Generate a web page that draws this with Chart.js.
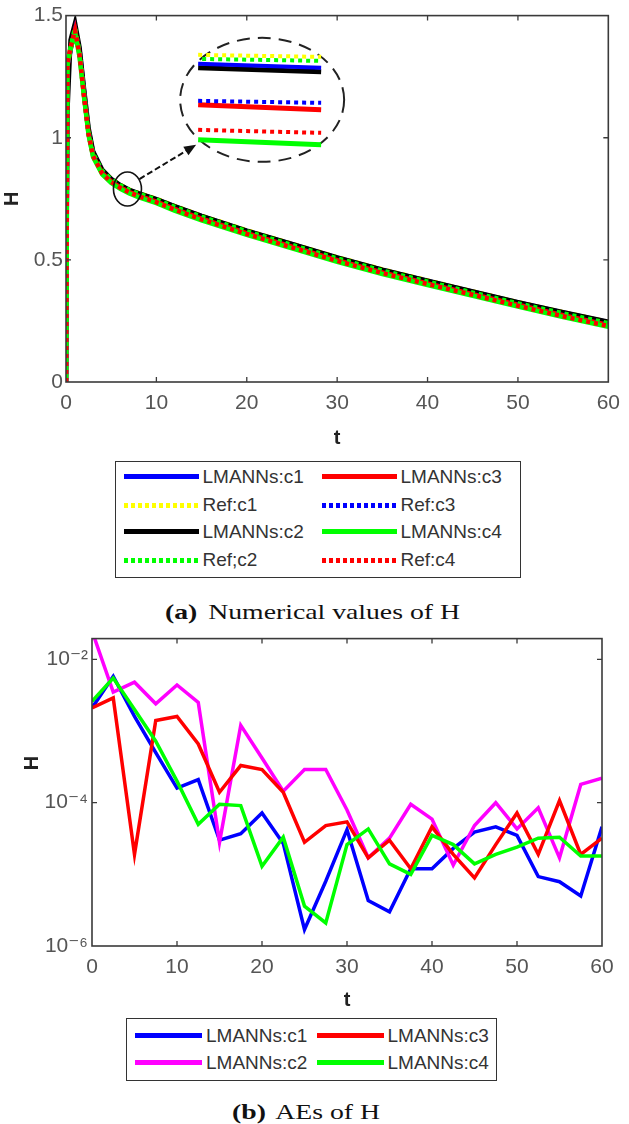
<!DOCTYPE html>
<html><head><meta charset="utf-8">
<script src="https://cdn.jsdelivr.net/npm/chart.js@4.4.1/dist/chart.umd.min.js"></script>
<style>
html,body{margin:0;padding:0;background:#fff;}
body{width:629px;height:1124px;position:relative;overflow:hidden;font-family:'Liberation Sans',Arial,sans-serif;}
.wrap{position:absolute;left:0;width:629px;}
.legend{position:absolute;border:1.5px solid #333;box-sizing:border-box;background:#fff;}
.item{position:absolute;height:24px;display:flex;align-items:center;}
.sample{height:5px;}
.lbl{font-size:19px;color:#333;margin-left:4px;white-space:nowrap;}
.caption{position:absolute;font-family:'Liberation Serif','Times New Roman',serif;font-size:21px;line-height:24px;color:#111;white-space:nowrap;transform:scaleX(1.32);transform-origin:left center;}
.caption b{margin-right:3px;}
</style></head><body>
<div class="wrap" style="top:0;height:452px"><canvas id="ca"></canvas></div>
<div class="legend" id="la" style="left:115px;top:461px;width:406px;height:117px"></div>
<div class="caption" style="left:165px;top:600px"><b>(a)</b> Numerical values of H</div>
<div class="wrap" style="top:622px;height:392px"><canvas id="cb"></canvas></div>
<div class="legend" id="lb" style="left:126px;top:1018px;width:371px;height:63px"></div>
<div class="caption" style="left:232px;top:1100px"><b>(b)</b> AEs of H</div>
<script>
// ---------- data: chart (a) numerical values of H ----------
const tA = [0,0.15,0.5,1,1.5,2,2.5,3,4,5,6,7,8,10,12,15,20,25,30,35,40,45,50,55,60];
const hLmannsC1 = [0,1.28,1.36,1.45,1.36,1.19,1.03,0.94,0.865,0.83,0.805,0.786,0.772,0.748,0.719,0.679,0.619,0.564,0.509,0.459,0.414,0.370,0.326,0.285,0.245];
const hRefC1    = [0,1.29,1.37,1.44,1.35,1.18,1.03,0.94,0.866,0.832,0.807,0.788,0.774,0.750,0.721,0.681,0.621,0.566,0.511,0.461,0.416,0.371,0.327,0.286,0.246];
const hLmannsC2 = [0,1.10,1.40,1.47,1.37,1.20,1.04,0.945,0.87,0.832,0.806,0.787,0.773,0.749,0.720,0.680,0.620,0.565,0.510,0.460,0.415,0.371,0.327,0.286,0.247];
const hRefC2    = [0,1.30,1.37,1.45,1.35,1.18,1.025,0.935,0.864,0.83,0.805,0.786,0.771,0.747,0.717,0.677,0.617,0.561,0.506,0.456,0.411,0.366,0.322,0.281,0.241];
const hLmannsC3 = [0,1.29,1.36,1.44,1.34,1.17,1.015,0.925,0.856,0.821,0.797,0.778,0.763,0.738,0.709,0.669,0.609,0.554,0.499,0.449,0.404,0.360,0.316,0.274,0.234];
const hRefC3    = [0,1.29,1.36,1.44,1.345,1.175,1.02,0.93,0.858,0.823,0.799,0.780,0.765,0.740,0.711,0.671,0.611,0.556,0.501,0.451,0.406,0.362,0.318,0.276,0.236];
const hLmannsC4 = [0,1.30,1.36,1.43,1.33,1.165,1.01,0.92,0.85,0.815,0.791,0.772,0.757,0.732,0.702,0.662,0.602,0.547,0.492,0.442,0.397,0.353,0.309,0.266,0.226];
const hRefC4    = [0,1.30,1.37,1.44,1.34,1.17,1.015,0.925,0.854,0.819,0.795,0.776,0.761,0.736,0.706,0.666,0.606,0.551,0.496,0.446,0.401,0.357,0.312,0.269,0.229];
const xTicksA = [0,10,20,30,40,50,60];
const yTicksA = [0,0.5,1,1.5];
const yTickLabelsA = ['0','0.5','1','1.5'];

// ---------- data: chart (b) absolute errors of H ----------
const tB = [0,2.5,5,7.5,10,12.5,15,17.5,20,22.5,25,27.5,30,32.5,35,37.5,40,42.5,45,47.5,50,52.5,55,57.5,60];
const aeC1 = [2.1e-3,5.8e-3,1.6e-3,5e-4,1.6e-4,2.1e-4,3.0e-5,3.7e-5,7.2e-5,2.7e-5,1.7e-6,8e-6,4.2e-5,4.3e-6,3.0e-6,1.2e-5,1.2e-5,2.3e-5,3.9e-5,4.6e-5,3.5e-5,9.3e-6,7.9e-6,5.0e-6,4.6e-5];
const aeC2 = [2.5e-2,3.5e-3,4.8e-3,2.4e-3,4.4e-3,2.5e-3,2.8e-5,1.2e-3,4.2e-4,1.45e-4,2.9e-4,2.9e-4,7.9e-5,1.7e-5,3.2e-5,9.5e-5,5.9e-5,1.35e-5,4.8e-5,1.0e-4,4.3e-5,8.5e-5,1.7e-5,1.8e-4,2.2e-4];
const aeC3 = [2.1e-3,2.9e-3,1.9e-5,1.4e-3,1.6e-3,6.6e-4,1.4e-4,3.3e-4,2.9e-4,1.4e-4,2.8e-5,4.8e-5,5.4e-5,1.7e-5,3.0e-5,1.2e-5,4.6e-5,1.9e-5,8.9e-6,2.6e-5,7.2e-5,1.9e-5,1.07e-4,1.9e-5,3.2e-5];
const aeC4 = [2.6e-3,5.5e-3,2.0e-3,7.2e-4,2.0e-4,5.0e-5,9.5e-5,9.1e-5,1.3e-5,3.3e-5,3.6e-6,2.1e-6,2.6e-5,4.3e-5,1.4e-5,1.0e-5,3.5e-5,2.6e-5,1.4e-5,1.9e-5,2.4e-5,3.2e-5,3.3e-5,1.8e-5,1.8e-5];
const xTicksB = [0,10,20,30,40,50,60];
const yTicksB = [1e-6,1e-4,1e-2];
const yTickLabelsB = ['10\u207B\u2076','10\u207B\u2074','10\u207B\u00B2'];

// ---------- helpers ----------
const pts = (xs, ys) => xs.map((x,i)=>({x:x, y:ys[i]}));
const TICKFONT = {family:"'Liberation Sans','DejaVu Sans',Arial,sans-serif", size:21};
const TITLEFONT = {family:"'Liberation Sans',Arial,sans-serif", size:20, weight:'bold'};

const framePlugin = {
  id:'frame',
  afterDatasetsDraw(chart){
    const {ctx, chartArea:a, scales} = chart;
    const x = scales.x, y = scales.y;
    ctx.save();
    ctx.strokeStyle = '#3a3a3a'; ctx.lineWidth = 1.6;
    ctx.strokeRect(a.left, a.top, a.right-a.left, a.bottom-a.top);
    ctx.lineWidth = 1.3;
    const L = 5;
    ctx.beginPath();
    x.ticks.forEach(t=>{const p=x.getPixelForValue(t.value); if(p<=a.left+1||p>=a.right-1) return;
      ctx.moveTo(p,a.bottom); ctx.lineTo(p,a.bottom-L); ctx.moveTo(p,a.top); ctx.lineTo(p,a.top+L);});
    y.ticks.forEach(t=>{const p=y.getPixelForValue(t.value); if(p>=a.bottom-1||p<=a.top+1) return;
      ctx.moveTo(a.left,p); ctx.lineTo(a.left+L,p); ctx.moveTo(a.right,p); ctx.lineTo(a.right-L,p);});
    ctx.stroke();
    ctx.restore();
  }
};

const insetPlugin = {
  id:'inset',
  afterDatasetsDraw(chart, args, o){
    if(!o || !o.enabled) return;
    const {ctx, scales:{x,y}} = chart;
    const cx = x.getPixelForValue(o.center[0]), cy = y.getPixelForValue(o.center[1]);
    const sx = x.getPixelForValue(o.spot[0]), sy = y.getPixelForValue(o.spot[1]);
    ctx.save();
    ctx.setLineDash([13,8]); ctx.lineWidth = 2; ctx.strokeStyle = '#222';
    ctx.beginPath(); ctx.ellipse(cx, cy, 82, 62, 0, 0, Math.PI*2); ctx.stroke();
    const seg = (col, y1, y2, w, dash, off) => {
      ctx.setLineDash(dash||[]); ctx.lineDashOffset = off||0; ctx.strokeStyle = col; ctx.lineWidth = w;
      ctx.beginPath(); ctx.moveTo(cx-64, cy+y1); ctx.lineTo(cx+59, cy+y2); ctx.stroke();
    };
    seg('#000000', -32, -28, 5);
    seg('#0000ff', -36, -32, 4);
    seg('#00ff00', -41, -39, 4, [4,4], 4);
    seg('#ffff00', -45, -43, 4, [4,4], 0);
    seg('#ff0000', 5, 10, 5);
    seg('#0000ff', 1, 3, 4, [4,4], 0);
    seg('#00ff00', 40, 45, 5);
    seg('#ff0000', 30, 33, 4, [4,4], 0);
    ctx.setLineDash([]); ctx.lineDashOffset = 0; ctx.strokeStyle = '#111'; ctx.lineWidth = 1.6;
    ctx.beginPath(); ctx.ellipse(sx, sy, 14, 17, 0, 0, Math.PI*2); ctx.stroke();
    const x0 = sx+12, y0 = sy-10, x1 = cx-66, y1 = cy+45;
    const ang = Math.atan2(y1-y0, x1-x0);
    ctx.setLineDash([6,3]); ctx.lineWidth = 2; ctx.strokeStyle = '#111';
    ctx.beginPath(); ctx.moveTo(x0,y0); ctx.lineTo(x1-8*Math.cos(ang), y1-8*Math.sin(ang)); ctx.stroke();
    ctx.setLineDash([]); ctx.fillStyle = '#111';
    ctx.beginPath(); ctx.moveTo(x1,y1);
    ctx.lineTo(x1-12*Math.cos(ang)+5*Math.sin(ang), y1-12*Math.sin(ang)-5*Math.cos(ang));
    ctx.lineTo(x1-12*Math.cos(ang)-5*Math.sin(ang), y1-12*Math.sin(ang)+5*Math.cos(ang));
    ctx.closePath(); ctx.fill();
    ctx.restore();
  }
};

const yTitlePlugin = {
  id:'ytitle',
  afterDraw(chart, args, o){
    if(!o || !o.text) return;
    const ctx = chart.ctx;
    ctx.save();
    ctx.translate(o.x, o.y); ctx.rotate(-Math.PI/2);
    ctx.font = "bold 20px 'Liberation Sans', Arial, sans-serif";
    ctx.fillStyle = '#222'; ctx.textAlign = 'center'; ctx.textBaseline = 'middle';
    ctx.fillText(o.text, 0, 0);
    ctx.restore();
  }
};

// ---------- chart (a) ----------
const dsA = [
  {label:'LMANNs:c1', data:pts(tA,hLmannsC1), borderColor:'#0000ff', dotted:false, order:8},
  {label:'Ref:c1',    data:pts(tA,hRefC1),    borderColor:'#ffff00', dotted:true,  order:7},
  {label:'LMANNs:c2', data:pts(tA,hLmannsC2), borderColor:'#000000', dotted:false, order:6},
  {label:'Ref;c2',    data:pts(tA,hRefC2),    borderColor:'#00ff00', dotted:true,  order:2, off:4},
  {label:'LMANNs:c3', data:pts(tA,hLmannsC3), borderColor:'#ff0000', dotted:false, order:5},
  {label:'Ref:c3',    data:pts(tA,hRefC3),    borderColor:'#0000ff', dotted:true,  order:4},
  {label:'LMANNs:c4', data:pts(tA,hLmannsC4), borderColor:'#00ff00', dotted:false, order:3},
  {label:'Ref:c4',    data:pts(tA,hRefC4),    borderColor:'#ff0000', dotted:true,  order:1}
].map(d=>Object.assign(d,{backgroundColor:d.borderColor, borderWidth:4.5, pointRadius:0, tension:0,
   borderDash:d.dotted?[4,4]:[], borderDashOffset:d.off||0, fill:false}));

new Chart(document.getElementById('ca'), {
  type:'line',
  data:{datasets:dsA},
  options:{
    responsive:true, maintainAspectRatio:false, animation:false, devicePixelRatio:1,
    layout:{padding:{top:12,right:16,left:0,bottom:0}},
    plugins:{legend:{display:false}, tooltip:{enabled:false},
      inset:{enabled:true, center:[21.7,1.155], spot:[6.8,0.79]}},
    scales:{
      x:{type:'linear', min:0, max:60,
        afterBuildTicks:s=>{s.ticks = xTicksA.map(v=>({value:v}));},
        ticks:{font:TICKFONT, color:'#555', padding:9, maxRotation:0},
        grid:{display:false, drawTicks:false}, border:{display:false},
        title:{display:true, text:'t', font:TITLEFONT, color:'#222', padding:{top:0,bottom:2}},
        afterFit:s=>{s.height = 70;}},
      y:{type:'linear', min:0, max:1.5,
        afterBuildTicks:s=>{s.ticks = yTicksA.map(v=>({value:v}));},
        ticks:{font:TICKFONT, color:'#555', padding:3,
          callback:(v)=>{const i = yTicksA.indexOf(v); return i>=0 ? yTickLabelsA[i] : '';}},
        grid:{display:false, drawTicks:false}, border:{display:false},
        title:{display:true, text:'H', font:TITLEFONT, color:'#222', padding:{top:0,bottom:0}},
        afterFit:s=>{s.width = 66;}}
    }
  },
  plugins:[framePlugin, insetPlugin]
});

// ---------- chart (b) ----------
const dsB = [
  {label:'LMANNs:c1', data:pts(tB,aeC1), borderColor:'#0000ff', order:4},
  {label:'LMANNs:c2', data:pts(tB,aeC2), borderColor:'#ff00ff', order:3},
  {label:'LMANNs:c3', data:pts(tB,aeC3), borderColor:'#ff0000', order:2},
  {label:'LMANNs:c4', data:pts(tB,aeC4), borderColor:'#00ff00', order:1}
].map(d=>Object.assign(d,{backgroundColor:d.borderColor, borderWidth:3.5, pointRadius:0, tension:0, fill:false}));

new Chart(document.getElementById('cb'), {
  type:'line',
  data:{datasets:dsB},
  options:{
    responsive:true, maintainAspectRatio:false, animation:false, devicePixelRatio:1,
    layout:{padding:{top:11,right:27,left:0,bottom:0}},
    plugins:{legend:{display:false}, tooltip:{enabled:false}, ytitle:{text:'H', x:32, y:141}},
    scales:{
      x:{type:'linear', min:0, max:60,
        afterBuildTicks:s=>{s.ticks = xTicksB.map(v=>({value:v}));},
        ticks:{font:TICKFONT, color:'#555', padding:9, maxRotation:0},
        grid:{display:false, drawTicks:false}, border:{display:false},
        title:{display:true, text:'t', font:TITLEFONT, color:'#222', padding:{top:0,bottom:2}},
        afterFit:s=>{s.height = 68;}},
      y:{type:'logarithmic', min:1e-6, max:0.0195,
        afterBuildTicks:s=>{s.ticks = yTicksB.map(v=>({value:v}));},
        ticks:{font:TICKFONT, color:'#555', padding:4, autoSkip:false,
          callback:(v)=>{const i = yTicksB.indexOf(v); return i>=0 ? yTickLabelsB[i] : '';}},
        grid:{display:false, drawTicks:false}, border:{display:false},
        title:{display:false},
        afterFit:s=>{s.width = 92;}}
    }
  },
  plugins:[framePlugin, yTitlePlugin]
});

// ---------- HTML legends ----------
function buildLegend(el, datasets, orderLabels, colX, rowY, sampleW){
  orderLabels.forEach((lab,i)=>{
    const d = datasets.find(q=>q.label===lab);
    const it = document.createElement('div');
    it.className = 'item';
    it.style.left = colX[i%2]+'px';
    it.style.top = (rowY[Math.floor(i/2)]-12)+'px';
    const s = document.createElement('div');
    s.className = 'sample';
    s.style.width = sampleW+'px';
    if(d.dotted){
      s.style.background = 'repeating-linear-gradient(to right,'+d.borderColor+' 0 4px, transparent 4px 7px)';
    } else {
      s.style.background = d.borderColor;
    }
    const t = document.createElement('span');
    t.className = 'lbl'; t.textContent = d.label;
    it.appendChild(s); it.appendChild(t); el.appendChild(it);
  });
}
buildLegend(document.getElementById('la'), dsA,
  ['LMANNs:c1','LMANNs:c3','Ref:c1','Ref:c3','LMANNs:c2','LMANNs:c4','Ref;c2','Ref:c4'],
  [7.5,205.5], [14.5,43.2,69.5,98.2], 75);
buildLegend(document.getElementById('lb'), dsB.map(d=>Object.assign({dotted:false},d)),
  ['LMANNs:c1','LMANNs:c3','LMANNs:c2','LMANNs:c4'],
  [8,189.5], [16.5,43.5], 67);
</script>
</body></html>
